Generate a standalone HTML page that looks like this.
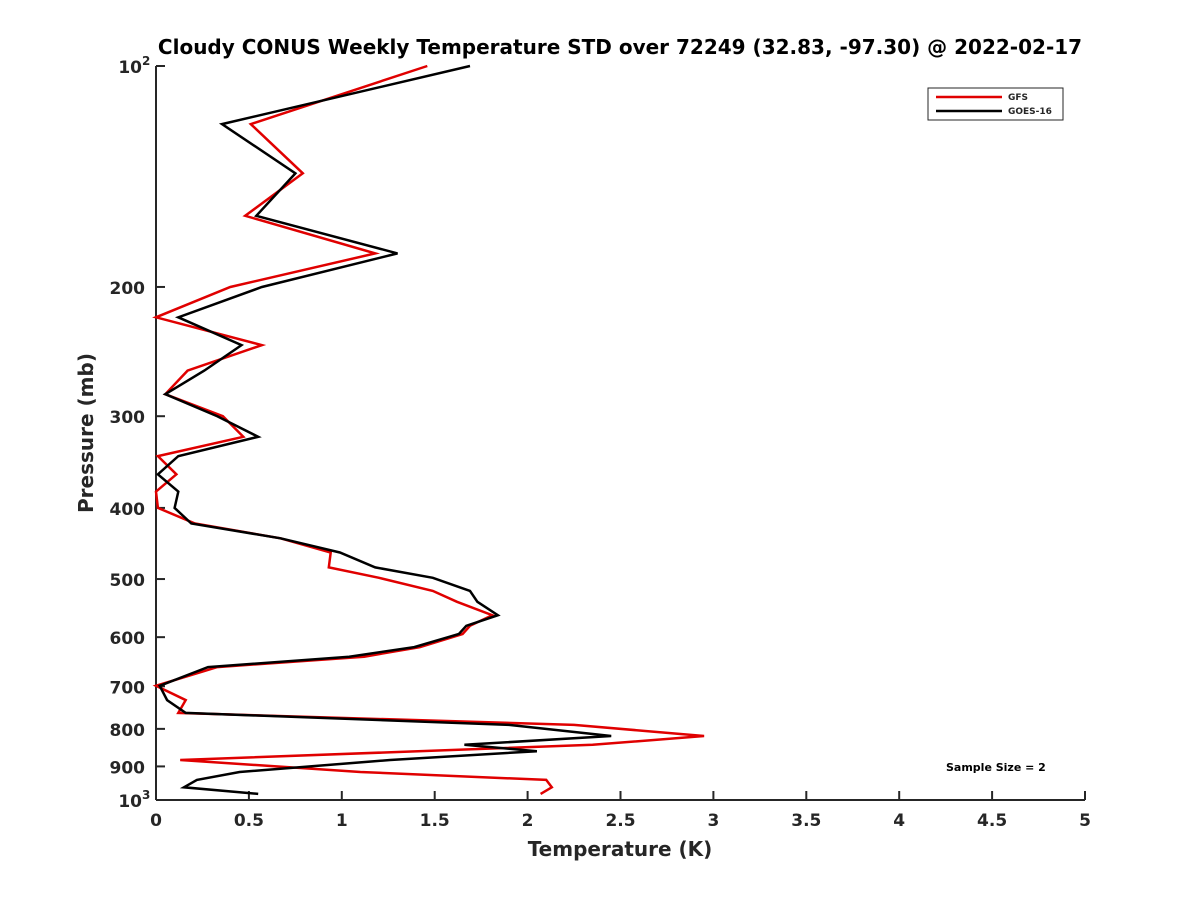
<!DOCTYPE html>
<html><head><meta charset="utf-8"><style>
body{margin:0;background:#fff;}
svg text{font-family:"DejaVu Sans","Liberation Sans",sans-serif;font-weight:bold;fill:#262626;}
</style></head><body>
<svg id="chart" width="1200" height="900" viewBox="0 0 1200 900">
<text x="620" y="54" text-anchor="middle" font-size="20" style="fill:#000">Cloudy CONUS Weekly Temperature STD over 72249 (32.83, -97.30) @ 2022-02-17</text>
<g id="axes"></g>
<g id="series"></g>
<g>
<rect x="928" y="88" width="135" height="32" fill="#fff" stroke="#262626" stroke-width="1"/>
<line x1="936" y1="97" x2="1002" y2="97" stroke="#e00000" stroke-width="2.5"/>
<text x="1008" y="100" font-size="9">GFS</text>
<line x1="936" y1="111" x2="1002" y2="111" stroke="#000" stroke-width="2.5"/>
<text x="1008" y="114" font-size="9">GOES-16</text>
</g>
<text x="946" y="771" font-size="11" style="fill:#000">Sample Size = 2</text>
<text x="620" y="856" text-anchor="middle" font-size="20">Temperature (K)</text>
<text transform="translate(93,433) rotate(-90)" text-anchor="middle" font-size="20">Pressure (mb)</text>
</svg>
<script>
const xTicks=[0,0.5,1,1.5,2,2.5,3,3.5,4,4.5,5];
const xTickLabels=["0","0.5","1","1.5","2","2.5","3","3.5","4","4.5","5"];
const yTicks=[100,200,300,400,500,600,700,800,900,1000];
const yTickLabels=["","200","300","400","500","600","700","800","900",""];
const gfsP=[100,120,140,160,180,200,220,240,260,280,300,320,340,360,380,400,420,440,460,482,498,519,537,560,579,594,619,638,659,699,731,761,790,818,841,882,916,939,961,981];
const gfsT=[1.46,0.51,0.79,0.48,1.18,0.40,0.0,0.57,0.17,0.05,0.36,0.47,0.01,0.11,0.0,0.01,0.21,0.67,0.94,0.93,1.2,1.49,1.62,1.81,1.69,1.65,1.42,1.12,0.33,0.0,0.16,0.12,2.25,2.95,2.35,0.13,1.1,2.1,2.13,2.07];
const goesP=[100,120,140,160,180,200,220,240,260,280,300,320,340,360,380,400,420,440,460,482,498,519,537,560,579,594,619,638,659,699,731,761,790,818,841,858,882,916,939,961,981];
const goesT=[1.69,0.355,0.75,0.54,1.30,0.57,0.12,0.46,0.26,0.05,0.33,0.55,0.12,0.01,0.12,0.10,0.19,0.67,0.99,1.18,1.49,1.69,1.73,1.84,1.67,1.63,1.39,1.04,0.28,0.02,0.06,0.16,1.9,2.45,1.66,2.05,1.26,0.45,0.22,0.15,0.55];
const NS="http://www.w3.org/2000/svg";
const X0=156,X1=1085,Y0=66,Y1=800;
function xs(t){return X0+(t-0)/(5-0)*(X1-X0);}
function ys(p){return Y0+Math.log10(p/100)*(Y1-Y0);}
function mk(tag,attrs,parent){const e=document.createElementNS(NS,tag);for(const k in attrs)e.setAttribute(k,attrs[k]);parent.appendChild(e);return e;}
const axes=document.getElementById('axes');
const ya=mk('line',{x1:X0,y1:Y0,x2:X0,y2:Y1,stroke:'#262626','stroke-width':2},axes);


const xa=mk('line',{x1:X0,y1:Y1,x2:X1,y2:Y1,stroke:'#262626','stroke-width':2},axes);


xTicks.forEach((t,i)=>{
  const tk=mk('line',{x1:xs(t),y1:Y1,x2:xs(t),y2:Y1-9,stroke:'#262626','stroke-width':2},axes);
  
  
  const tx=mk('text',{x:xs(t),y:Y1+26,'text-anchor':'middle','font-size':17},axes);
  tx.textContent=xTickLabels[i];
  
  
});
yTicks.forEach((p,i)=>{
  const tk=mk('line',{x1:X0,y1:ys(p),x2:X0+9,y2:ys(p),stroke:'#262626','stroke-width':2},axes);
  
  
  if(yTickLabels[i]){
    const tx=mk('text',{x:X0-11,y:ys(p)+7,'text-anchor':'end','font-size':17},axes);
    tx.textContent=yTickLabels[i];
    
    
  }
});
[[100,"2"],[1000,"3"]].forEach(([p,e])=>{
  const tx=mk('text',{x:X0-14,y:ys(p)+7,'text-anchor':'end','font-size':17},axes);
  tx.textContent="10";
  
  
  const sp=mk('text',{x:X0-14,y:ys(p)-1,'font-size':12},axes);
  sp.textContent=e;
  
  
});
const ser=document.getElementById('series');
function line(P,T,color,name){
  const d=P.map((p,i)=>(i?'L':'M')+xs(T[i]).toFixed(1)+','+ys(p).toFixed(1)).join(' ');
  const pa=mk('path',{d:d,fill:'none',stroke:color,'stroke-width':2.5,'stroke-linejoin':'miter'},ser);
  
  
}
line(gfsP,gfsT,'#e00000','gfs-line');
line(goesP,goesT,'#000000','goes16-line');
</script>
</body></html>
